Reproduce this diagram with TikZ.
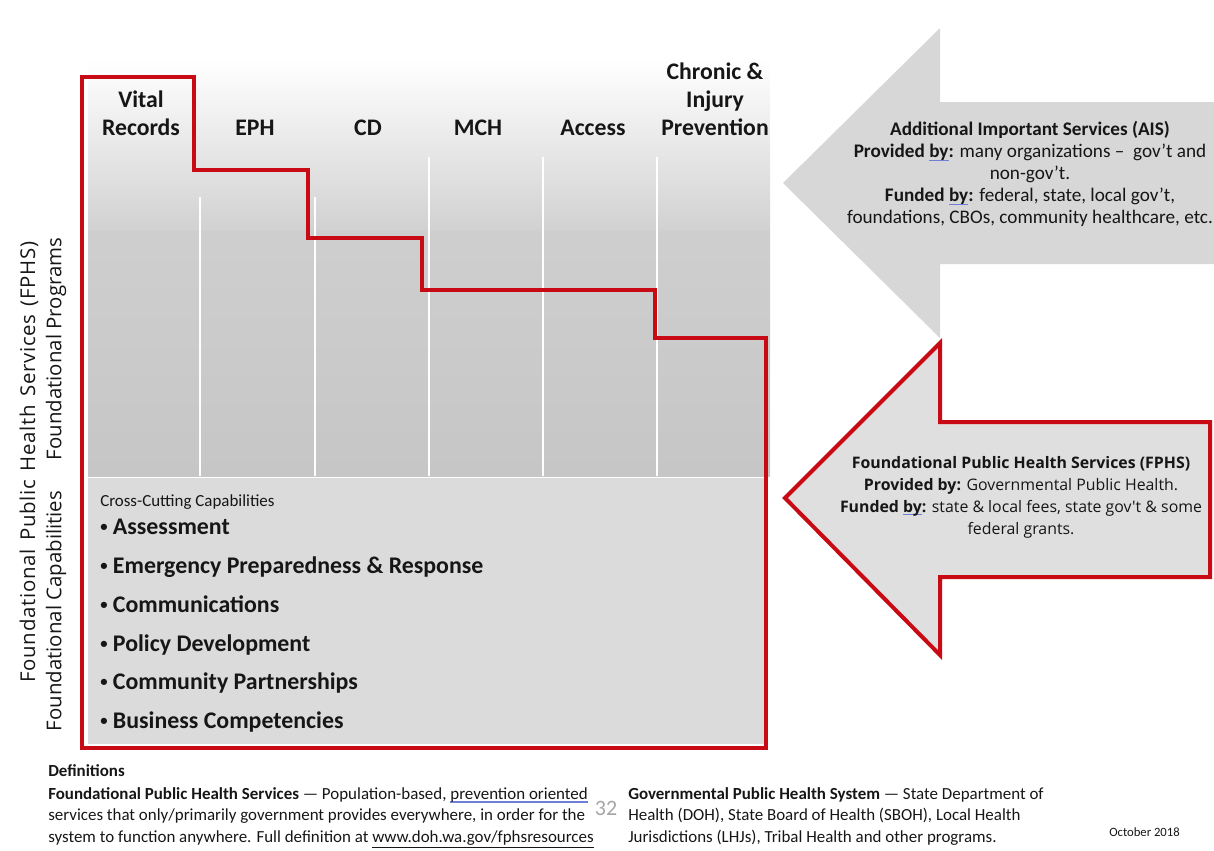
\documentclass[tikz,border=0pt]{standalone}
\usepackage{fontspec}
\setmainfont{Carlito}
\newfontfamily\opensans{Open Sans}
\newfontfamily\opensanswide[LetterSpace=3.5,WordSpace=1.4]{Open Sans}
\definecolor{fphsred}{HTML}{C80A14}
\definecolor{colgray}{HTML}{C6C6C6}
\definecolor{capgray}{HTML}{DBDBDB}
\definecolor{aisgray}{HTML}{D7D7D7}
\definecolor{fphsgray}{HTML}{DFDFDF}
\definecolor{txtdark}{HTML}{161616}
\definecolor{gramblue}{HTML}{6E7FD8}
\newcommand{\gramline}[1]{\setbox0\hbox{#1}\rlap{\color{gramblue}\rule[-0.22em]{\wd0}{0.09em}}\box0}
\newcommand{\smallbullet}{\raisebox{0.12em}{\fontsize{11}{11}\selectfont\textbullet}}
\begin{document}
\begin{tikzpicture}[x=0.75pt,y=-0.75pt,text=txtdark]

    \tikzstyle{colhead}=[font=\fontsize{17.8}{21}\selectfont\bfseries, align=center, anchor=base, inner sep=0pt]
    \tikzstyle{sidelabel}=[font=\opensans\fontsize{15.3}{17}\selectfont, rotate=90, inner sep=0pt]
    \tikzstyle{capitem}=[font=\fontsize{17.9}{20}\selectfont\bfseries, anchor=base west, inner sep=0pt]
    \tikzstyle{arrowtext}=[align=center, anchor=base, inner sep=0pt]
    \tikzstyle{deftext}=[font=\fontsize{12.7}{16.1}\selectfont, align=left, anchor=base west, inner sep=0pt]

    \useasboundingbox (0,0) rectangle (1214,850);

    % program columns and capabilities box
    \shade[top color=white, bottom color=colgray!80] (88,60) rectangle (770,230);
    \shade[top color=colgray!85, bottom color=colgray] (88,230) rectangle (770,476);
    \foreach \x/\y in {200/197, 315/197, 429/157, 543/157, 657/157}
        \draw[white, line width=1.5] (\x,\y) -- (\x,476);
    \fill[capgray] (88,478) rectangle (764,744);

    % arrows on the right
    \fill[aisgray] (1214,102) -- (940,102) -- (940,28) -- (783,183) -- (940,338) -- (940,264) -- (1214,264) -- cycle;
    \filldraw[fill=fphsgray, draw=fphsred, line width=3] (1210,422) -- (940,422) -- (940,343) -- (785,498)
        -- (940,655) -- (940,577) -- (1210,577) -- cycle;

    % red staircase outline
    \draw[fphsred, line width=3.2] (82,77) -- (194,77) -- (194,170) -- (308,170) -- (308,238) -- (422,238)
        -- (422,290) -- (655,290) -- (655,338) -- (766,338) -- (766,748) -- (82,748) -- cycle;

    % column headings
    \node[colhead] (Vital) at (141,135) {Vital\\Records};
    \foreach \x/\t in {255/EPH, 368/CD, 478/MCH, 593/Access}
        \node[colhead] (\t) at (\x,135) {\t};
    \node[colhead] (Chronic) at (715,135) {Chronic \&\\Injury\\Prevention};

    % side labels
    \node[sidelabel, font=\opensanswide\fontsize{15.3}{17}\selectfont] (FPHSside) at (29,462) {Foundational Public Health Services (FPHS)};
    \node[sidelabel] (Programs) at (56,349) {Foundational Programs};
    \node[sidelabel] (Capabilities) at (56,611) {Foundational Capabilities};

    % cross-cutting capabilities
    \node[font=\fontsize{12.7}{14}\selectfont, anchor=base west, inner sep=0pt] (CrossCut) at (100,506) {Cross-Cutting Capabilities};
    \foreach \y/\t [count=\i] in {534/Assessment, 573/Emergency Preparedness \& Response, 612/Communications,
        651/Policy Development, 689/Community Partnerships, 728/Business Competencies}
        \node[capitem] (Cap\i) at (100,\y) {\smallbullet\ \t};

    % arrow texts
    \node[arrowtext, font=\fontsize{14.4}{16.5}\selectfont] (AIS) at (1030,223)
        {\textbf{Additional Important Services (AIS)}\\
         \textbf{Provided \gramline{by}:} many organizations --\ \ gov't and\\
         non-gov't.\\
         \textbf{Funded \gramline{by}:} federal, state, local gov't,\\
         foundations, CBOs, community healthcare, etc.};
    \node[arrowtext, font=\opensans\fontsize{11.9}{16.5}\selectfont] (FPHS) at (1021,534)
        {\textbf{Foundational Public Health Services (FPHS)}\\
         \textbf{Provided by:} Governmental Public Health.\\
         \textbf{Funded \gramline{by}:} state \& local fees, state gov't \& some\\
         federal grants.};

    % definitions
    \node[deftext, font=\fontsize{12.7}{16.1}\selectfont\bfseries] (Defs) at (48,776) {Definitions};
    \node[deftext] (DefLeft) at (48,842)
        {\textbf{Foundational Public Health Services} --- Population-based, \gramline{prevention oriented}\\
         services that only/primarily government provides everywhere, in order for the\\
         system to function anywhere. Full definition at \underline{www.doh.wa.gov/fphsresources}};
    \node[deftext] (DefRight) at (628,842)
        {\textbf{Governmental Public Health System} --- State Department of\\
         Health (DOH), State Board of Health (SBOH), Local Health\\
         Jurisdictions (LHJs), Tribal Health and other programs.};
    \node[font=\fontsize{16.5}{18}\selectfont, text=gray!70, inner sep=0pt] (PageNum) at (606,808) {32};
    \node[font=\fontsize{9.5}{11}\selectfont, anchor=base east, inner sep=0pt] (Date) at (1180,836) {October 2018};

\end{tikzpicture}
\end{document}
